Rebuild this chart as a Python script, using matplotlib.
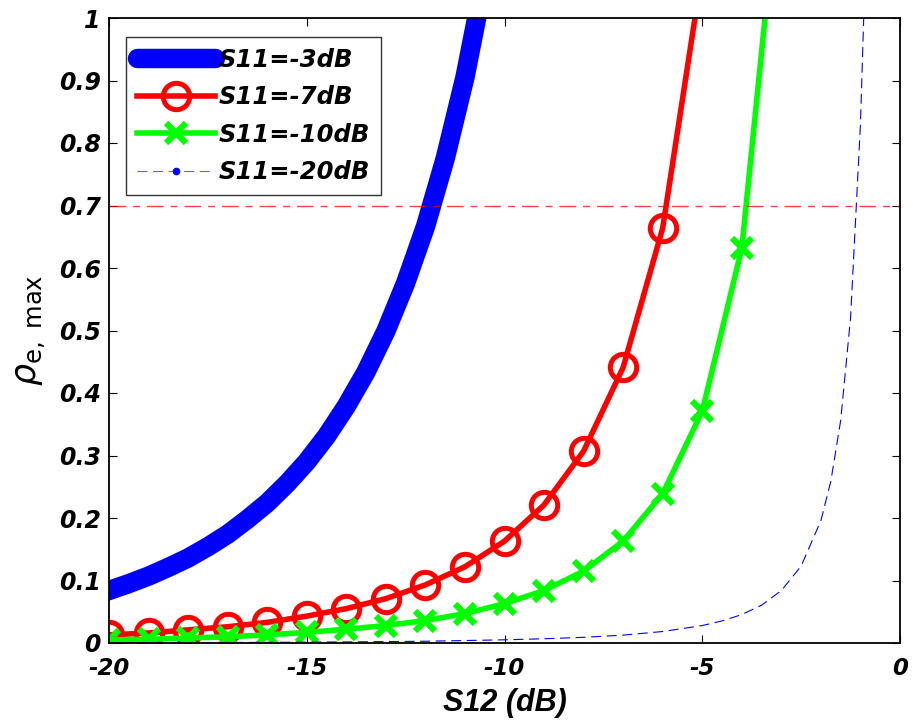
import matplotlib
matplotlib.use("Agg")
import matplotlib.pyplot as plt
from matplotlib import font_manager
from matplotlib.lines import Line2D

plt.rcParams["axes.unicode_minus"] = False
plt.rcParams["mathtext.fontset"] = "dejavusans"

# ---------------- data ----------------
s12_m3 = [-20, -19.5, -19, -18.5, -18, -17.5, -17, -16.5, -16, -15.5, -15,
          -14.5, -14, -13.5, -13, -12.5, -12, -11.5, -11, -10.5, -10]
rho_m3 = [0.084, 0.095, 0.107, 0.121, 0.136, 0.154, 0.174, 0.198, 0.224, 0.255, 0.290,
          0.331, 0.379, 0.434, 0.499, 0.576, 0.666, 0.775, 0.905, 1.065, 1.260]

s12_m7 = [-20, -19, -18, -17, -16, -15, -14, -13, -12, -11, -10, -9, -8, -7, -6, -5]
rho_m7 = [0.013, 0.016, 0.021, 0.026, 0.033, 0.043, 0.055, 0.071, 0.093, 0.122,
          0.163, 0.221, 0.307, 0.441, 0.664, 1.076]

s12_m10 = [-20, -19, -18, -17, -16, -15, -14, -13, -12, -11, -10, -9, -8, -7, -6, -5, -4, -3]
rho_m10 = [0.005, 0.006, 0.008, 0.010, 0.013, 0.017, 0.022, 0.028, 0.036, 0.047,
           0.063, 0.084, 0.115, 0.163, 0.239, 0.371, 0.632, 1.260]

s12_m20 = [-20, -18, -16, -15, -14, -12, -10, -9, -8, -7, -6, -5, -4.5, -4, -3.5, -3,
           -2.5, -2, -1.75, -1.5, -1.25, -1.0, -0.9]
rho_m20 = [0.0004, 0.0006, 0.0010, 0.0014, 0.0017, 0.0028, 0.0051, 0.0068, 0.0091,
           0.0126, 0.0184, 0.0279, 0.0353, 0.0455, 0.0605, 0.0839, 0.1230, 0.1958,
           0.2584, 0.3560, 0.5203, 0.8299, 1.0358]

threshold = 0.7
labels = ["S11=-3dB", "S11=-7dB", "S11=-10dB", "S11=-20dB"]
xticks = [-20, -15, -10, -5, 0]
xticklabels = ["-20", "-15", "-10", "-5", "0"]
yticks = [0, 0.1, 0.2, 0.3, 0.4, 0.5, 0.6, 0.7, 0.8, 0.9, 1]
yticklabels = ["0", "0.1", "0.2", "0.3", "0.4", "0.5", "0.6", "0.7", "0.8", "0.9", "1"]

# ---------------- figure ----------------
tickfam = ["DejaVu Sans"]
fig = plt.figure(figsize=(9.13, 7.25), dpi=100)
ax = fig.add_axes([109/913, 1-643/725, (900-109)/913, (643-18)/725])

ax.plot(s12_m3, rho_m3, color="#0000ff", lw=14, label=labels[0])
ax.plot(s12_m7, rho_m7, color="#ff0000", lw=4, marker="o", ms=19,
        mfc="none", mec="#ff0000", mew=3.6, label=labels[1])
ax.plot(s12_m10, rho_m10, color="#00ff00", lw=4, marker="x", ms=15,
        mec="#00ff00", mew=4.5, label=labels[2])
ax.plot(s12_m20, rho_m20, color="#0000ff", lw=0.8, ls=(0, (9, 5)),
        label=labels[3])
ax.axhline(threshold, color="#ff0000", lw=1.0, ls=(0, (12, 5, 5, 5)), alpha=0.75)

ax.set_xlim(-20, 0)
ax.set_ylim(0, 1)
ax.set_xticks(xticks)
ax.set_xticklabels(xticklabels)
ax.set_yticks(yticks)
ax.set_yticklabels(yticklabels)
ax.tick_params(direction="in", length=6, width=0.8, top=True, right=True)
ax.tick_params(axis="x", pad=10)
ax.tick_params(axis="y", pad=6)
for lab in ax.get_xticklabels():
    lab.set_fontfamily(tickfam); lab.set_fontweight("bold"); lab.set_fontstyle("oblique")
    lab.set_fontsize(16.5)
for lab in ax.get_yticklabels():
    lab.set_fontfamily(tickfam); lab.set_fontweight("bold"); lab.set_fontstyle("oblique")
    lab.set_fontsize(17)
for sp in ax.spines.values():
    sp.set_linewidth(1.3)

ax.set_xlabel("S12 (dB)", fontsize=22, fontweight="bold", fontstyle="italic",
              family=["Liberation Sans", "DejaVu Sans"], labelpad=6)
ax.set_ylabel(r"$\rho_{\mathrm{e,\ max}}$", fontsize=25, labelpad=8)

# legend handles
h = [Line2D([], [], color="#0000ff", lw=14, solid_capstyle="round"),
     Line2D([], [], color="#ff0000", lw=4, marker="o", ms=19, mfc="none", mew=3.6),
     Line2D([], [], color="#00ff00", lw=4, marker="x", ms=15, mew=4.5),
     Line2D([], [], color="#6060ff", lw=0.8, ls=(0, (9, 5)), marker=".", ms=9,
            mfc="#0000ff", mec="#0000ff")]
leg = ax.legend(h, labels, loc="upper left", bbox_to_anchor=(17/791, 1-19/625),
                prop=font_manager.FontProperties(family=tickfam, weight="bold",
                                                 style="oblique", size=17.5),
                frameon=True, fancybox=False, edgecolor="black",
                handlelength=3.2, handletextpad=0.15, borderpad=0.45,
                labelspacing=0.55, borderaxespad=0)
leg.get_frame().set_linewidth(1.0)

fig.savefig("out.png", dpi=100)
